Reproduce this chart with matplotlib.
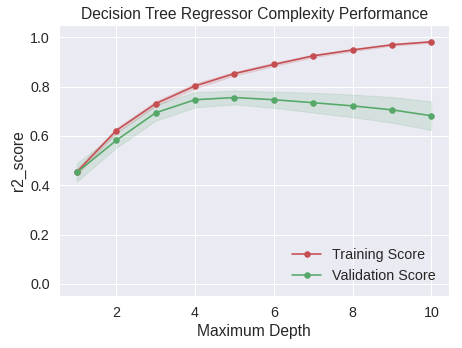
import numpy as np
import matplotlib
matplotlib.use("Agg")
import matplotlib.pyplot as plt
import seaborn as sns

# Decision tree depth vs r2 score
max_depth = [1, 2, 3, 4, 5, 6, 7, 8, 9, 10]
train_mean = [0.454, 0.622, 0.731, 0.803, 0.853, 0.890, 0.925, 0.949, 0.970, 0.982]
train_std = [0.012, 0.010, 0.010, 0.010, 0.008, 0.007, 0.006, 0.005, 0.004, 0.004]
valid_mean = [0.452, 0.582, 0.694, 0.747, 0.756, 0.747, 0.735, 0.722, 0.706, 0.682]
valid_std = [0.037, 0.030, 0.032, 0.031, 0.028, 0.033, 0.040, 0.046, 0.052, 0.058]

sns.set_theme(style="darkgrid", font_scale=1.3, color_codes=True)
plt.rcParams["font.family"] = ["Liberation Sans", "DejaVu Sans"]

fig, ax = plt.subplots(figsize=(462 / 72, 348 / 72), dpi=72)
fig.subplots_adjust(left=0.128, right=0.972, top=0.928, bottom=0.149)

x = np.array(max_depth)
tm, ts = np.array(train_mean), np.array(train_std)
vm, vs = np.array(valid_mean), np.array(valid_std)

ax.plot(x, tm, "o-", color="r", label="Training Score", markersize=5.5, linewidth=1.6)
ax.plot(x, vm, "o-", color="g", label="Validation Score", markersize=5.5, linewidth=1.6)
ax.fill_between(x, tm - ts, tm + ts, alpha=0.15, color="r")
ax.fill_between(x, vm - vs, vm + vs, alpha=0.15, color="g")

ax.set_title("Decision Tree Regressor Complexity Performance")
ax.set_xlabel("Maximum Depth")
ax.set_ylabel("r2_score")
ax.set_ylim([-0.05, 1.05])
ax.legend(loc="lower right", frameon=False)

fig.savefig("out.png", dpi=72)
